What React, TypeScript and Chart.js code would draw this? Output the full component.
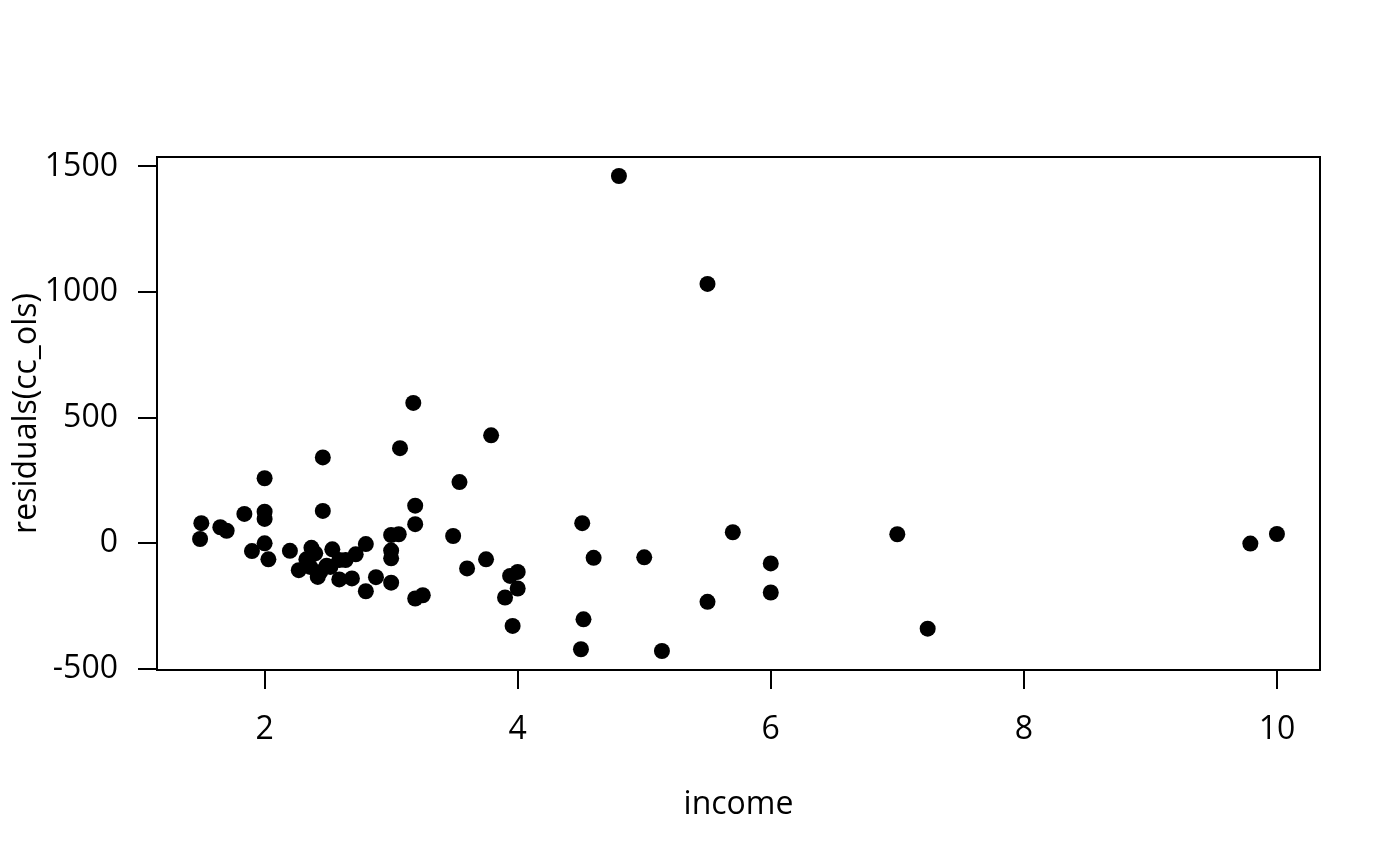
import React, { useEffect, useRef } from 'react';
import { Chart, registerables } from 'chart.js';

Chart.register(...registerables);

// residuals of the OLS fit against income
const income = [
  1.5, 1.49, 1.65, 1.7, 1.84, 1.9, 2.0, 2.0, 2.0, 2.0, 2.03, 2.2, 2.27, 2.33,
  2.36, 2.37, 2.4, 2.42, 2.44, 2.46, 2.46, 2.49, 2.52, 2.535, 2.59, 2.59, 2.64,
  2.69, 2.72, 2.8, 2.8, 2.88, 3.0, 3.0, 3.0, 3.0, 3.06, 3.07, 3.175, 3.19, 3.19,
  3.19, 3.25, 3.49, 3.54, 3.6, 3.75, 3.79, 3.9, 3.94, 3.96, 4.0, 4.0, 4.5, 4.51,
  4.52, 4.6, 4.8, 5.0, 5.14, 5.5, 5.5, 5.7, 6.0, 6.0, 7.0, 7.24, 9.79, 10.0,
];
const residuals = [
  79, 16, 63, 49, 116, -32, 258, 125, 96, -1, -65, -31, -108, -65,
  -95, -19, -41, -135, -115, 341, 128, -90, -95, -25, -68, -145, -68,
  -141, -45, -4, -192, -136, 32, -30, -61, -158, 35, 378, 558, 149, 75,
  -221, -208, 28, 243, -101, -65, 429, -217, -131, -330, -115, -181, -423, 79,
  -304, -59, 1462, -57, -430, 1032, -234, 43, -81, -197, 35, -341, -2, 36,
];

const xTicks = [2, 4, 6, 8, 10];
const yTicks = [-500, 0, 500, 1000, 1500];

// R style 4% range extension
const extend = (v: number[]) => {
  const lo = Math.min(...v);
  const hi = Math.max(...v);
  const pad = (hi - lo) * 0.04;
  return [lo - pad, hi + pad];
};

const font = { family: 'Open Sans', size: 32 };

const framePlugin = {
  id: 'frame',
  beforeDatasetsDraw(chart: any) {
    const { ctx, chartArea } = chart;
    ctx.save();
    ctx.strokeStyle = '#000';
    ctx.lineWidth = 2;
    ctx.strokeRect(
      chartArea.left,
      chartArea.top,
      chartArea.right - chartArea.left,
      chartArea.bottom - chartArea.top
    );
    ctx.restore();
  },
};

const App: React.FC = () => {
  const canvasRef = useRef<HTMLCanvasElement>(null);

  useEffect(() => {
    if (!canvasRef.current) return;
    const [xMin, xMax] = extend(income);
    const [yMin, yMax] = extend(residuals);

    const chart = new Chart(canvasRef.current, {
      type: 'scatter',
      data: {
        datasets: [
          {
            data: income.map((x, i) => ({ x, y: residuals[i] })),
            backgroundColor: '#000',
            borderWidth: 0,
            pointRadius: 8,
            pointHoverRadius: 8,
          },
        ],
      },
      options: {
        responsive: false,
        animation: false,
        events: [],
        layout: { padding: { left: 0, top: 157, right: 80, bottom: 0 } },
        plugins: {
          legend: { display: false },
          tooltip: { enabled: false },
        },
        scales: {
          x: {
            type: 'linear',
            min: xMin,
            max: xMax,
            afterBuildTicks: (scale: any) => {
              scale.ticks = xTicks.map((value) => ({ value }));
            },
            afterFit: (scale: any) => {
              scale.height = 196;
            },
            grid: {
              drawOnChartArea: false,
              drawTicks: true,
              tickLength: 19,
              color: '#000',
              lineWidth: 2,
            },
            border: { display: true, color: '#000', width: 2 },
            ticks: {
              color: '#000',
              font,
              padding: 22,
              maxRotation: 0,
              autoSkip: false,
              callback: (v: any) => String(v),
            },
            title: {
              display: true,
              text: 'income',
              color: '#000',
              font,
              padding: { top: 0, bottom: 42 },
            },
          },
          y: {
            type: 'linear',
            min: yMin,
            max: yMax,
            afterBuildTicks: (scale: any) => {
              scale.ticks = yTicks.map((value) => ({ value }));
            },
            afterFit: (scale: any) => {
              scale.width = 157;
            },
            grid: {
              drawOnChartArea: false,
              drawTicks: true,
              tickLength: 19,
              color: '#000',
              lineWidth: 2,
            },
            border: { display: true, color: '#000', width: 2 },
            ticks: {
              color: '#000',
              font,
              padding: 20,
              autoSkip: false,
              callback: (v: any) => String(v),
            },
            title: {
              display: true,
              text: 'residuals(cc_ols)',
              color: '#000',
              font,
              padding: { top: 8, bottom: 0 },
            },
          },
        },
      },
      plugins: [framePlugin],
    });

    return () => {
      chart.destroy();
    };
  }, []);

  return (
    <div
      style={{
        position: 'fixed',
        left: 0,
        top: 0,
        width: 1400,
        height: 866,
        background: '#fff',
      }}
    >
      <canvas ref={canvasRef} width={1400} height={866} />
    </div>
  );
};

export default App;
